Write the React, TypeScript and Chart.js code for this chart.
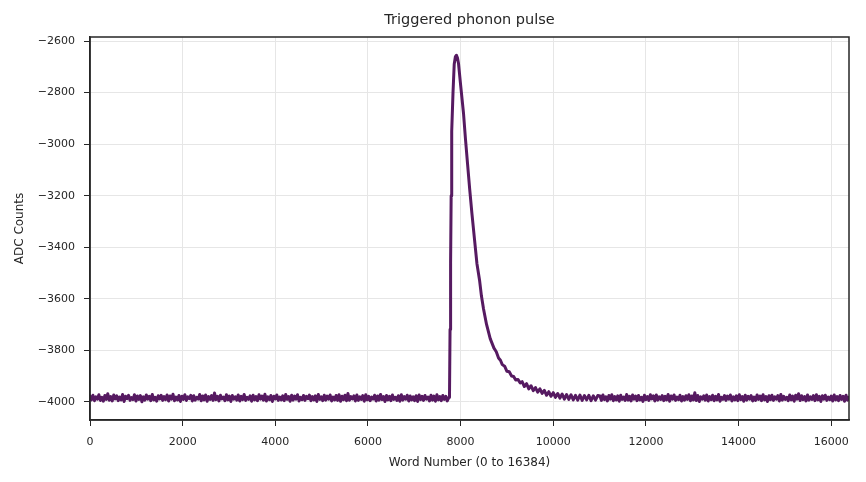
import React, { useEffect, useRef } from "react";
import Chart from "chart.js/auto";

// sampling step of the baseline traces (words)
const baselineStep = 32;

// baseline before the trigger, starting at word 0
const preTriggerCounts = [
    -3978, -3993, -3975, -3996, -3981, -3990, -3973, -3995, -3983, -3998,
    -3976, -3991, -3969, -3994, -3980, -3997, -3974, -3989, -3977, -3996,
    -3982, -3993, -3972, -3999, -3979, -3988, -3975, -3995, -3984, -3992,
    -3973, -3997, -3978, -3991, -3976, -4000, -3981, -3994, -3974, -3990,
    -3979, -3996, -3972, -3993, -3983, -3998, -3977, -3989, -3975, -3995,
    -3980, -3992, -3974, -3997, -3978, -3990, -3971, -3996, -3982, -3993,
    -3976, -3999, -3979, -3991, -3973, -3995, -3981, -3988, -3975, -3997,
    -3977, -3994, -3983, -3990, -3972, -3996, -3978, -3993, -3974, -3998,
    -3980, -3991, -3976, -3995, -3966, -3992, -3979, -3997, -3975, -3989,
    -3982, -3996, -3973, -3993, -3978, -3999, -3976, -3990, -3981, -3994,
    -3974, -3997, -3979, -3992, -3972, -3995, -3983, -3991, -3977, -3998,
    -3975, -3993, -3980, -3996, -3973, -3990, -3978, -3994, -3971, -3997,
    -3981, -3992, -3976, -3999, -3979, -3989, -3974, -3995, -3982, -3993,
    -3977, -3996, -3972, -3991, -3980, -3998, -3975, -3994, -3978, -3990,
    -3973, -3997, -3983, -3992, -3976, -3995, -3979, -3988, -3974, -3996,
    -3980, -3993, -3977, -3999, -3972, -3991, -3981, -3996, -3975, -3994,
    -3978, -3990, -3974, -3997, -3982, -3993, -3976, -3995, -3973, -3998,
    -3979, -3992, -3975, -3996, -3968, -3994, -3980, -3989, -3977, -3997,
    -3974, -3995, -3981, -3991, -3976, -3998, -3973, -3993, -3979, -3996,
    -3982, -3990, -3975, -3997, -3978, -3994, -3972, -3992, -3980, -3999,
    -3976, -3993, -3979, -3996, -3974, -3991, -3983, -3995, -3977, -3998,
    -3973, -3994, -3980, -3990, -3975, -3997, -3978, -3993, -3981, -3996,
    -3977, -3999, -3974, -3992, -3979, -3995, -3976, -3990, -3982, -3997,
    -3975, -3994, -3978, -3998, -3973, -3993, -3980, -3996, -3976, -3991,
    -3979, -3997, -3984,
];

// the pulse itself (rise, peak and decay)
const pulseWords = [
    7760, 7772, 7784, 7796, 7808, 7836, 7862, 7888, 7910, 7932,
    7955, 8000, 8063, 8105, 8149, 8196, 8244, 8300, 8352, 8409,
    8450, 8495, 8560, 8639, 8720, 8770, 8819, 8860, 8900, 8950,
    9000, 9050, 9100, 9145, 9190, 9240, 9287,
    9328, 9376, 9424, 9472, 9520, 9568, 9616, 9664, 9712, 9760,
    9808, 9856, 9904, 9952, 10000, 10048, 10096, 10144, 10192, 10240,
    10288, 10336, 10384, 10432, 10480, 10528, 10576, 10624, 10672, 10720,
    10768, 10816, 10864, 10912, 10960,
];
const pulseCounts = [
    -3984, -3720, -3460, -3200, -2950, -2800, -2690, -2660, -2655, -2665,
    -2687, -2770, -2881, -2980, -3075, -3175, -3269, -3370, -3463, -3528,
    -3590, -3640, -3700, -3755, -3792, -3806, -3830, -3839, -3856, -3862,
    -3882, -3884, -3900, -3902, -3916, -3914, -3927,
    -3922, -3941, -3930, -3950, -3938, -3957, -3945, -3963, -3950, -3968,
    -3956, -3975, -3961, -3979, -3965, -3983, -3968, -3986, -3970, -3990,
    -3972, -3991, -3973, -3993, -3975, -3994, -3974, -3995, -3976, -3993,
    -3975, -3996, -3977, -3994, -3976,
];

// baseline after the pulse, starting at word 11008
const tailStart = 11008;
const tailCounts = [
    -3978, -3995, -3974, -3992, -3981, -3997, -3976, -3990, -3973, -3996,
    -3980, -3993, -3977, -3998, -3975, -3991, -3982, -3995, -3972, -3994,
    -3979, -3997, -3974, -3990, -3978, -3996, -3976, -3993, -3983, -3999,
    -3975, -3992, -3980, -3995, -3973, -3989, -3977, -3997, -3974, -3994,
    -3981, -3991, -3976, -3996, -3979, -3993, -3972, -3998, -3978, -3990,
    -3974, -3995, -3982, -3992, -3975, -3997, -3980, -3994, -3977, -3991,
    -3973, -3996, -3978, -3993, -3965, -3995, -3976, -3999, -3981, -3990,
    -3977, -3994, -3974, -3997, -3980, -3992, -3975, -3996, -3979, -3993,
    -3972, -3998, -3983, -3991, -3976, -3995, -3978, -3990, -3974, -3997,
    -3981, -3993, -3977, -3996, -3973, -3992, -3980, -3998, -3975, -3994,
    -3979, -3990, -3976, -3997, -3982, -3995, -3974, -3991, -3978, -3996,
    -3973, -3993, -3980, -3999, -3977, -3992, -3975, -3995, -3981, -3990,
    -3976, -3997, -3972, -3994, -3979, -3991, -3983, -3996, -3974, -3993,
    -3978, -3998, -3975, -3990, -3969, -3995, -3977, -3992, -3980, -3997,
    -3974, -3994, -3981, -3991, -3976, -3996, -3973, -3993, -3979, -3999,
    -3977, -3990, -3975, -3995, -3982, -3992, -3978, -3997, -3974, -3993,
    -3980, -3996, -3976, -3991, -3979, -3998, -3975, -3994, -3983,
];

const xTicks = [0, 2000, 4000, 6000, 8000, 10000, 12000, 14000, 16000];
const yTicks = [-4000, -3800, -3600, -3400, -3200, -3000, -2800, -2600];

const FONT = "'DejaVu Sans', sans-serif";
const INK = "#262626";
const TITLE = "Triggered phonon pulse";

// matplotlib-style box round the plot, plus the title centred over the plot area
const framePlugin = {
    id: "frame",
    afterDraw(chart: any) {
        const { ctx, chartArea } = chart;
        ctx.save();
        ctx.strokeStyle = INK;
        ctx.lineWidth = 1.5;
        ctx.strokeRect(chartArea.left, chartArea.top, chartArea.right - chartArea.left, chartArea.bottom - chartArea.top);
        ctx.fillStyle = INK;
        ctx.font = `14.5px ${FONT}`;
        ctx.textAlign = "center";
        ctx.textBaseline = "middle";
        ctx.fillText(TITLE, (chartArea.left + chartArea.right) / 2, 20);
        ctx.restore();
    },
};

const fmt = (v: number) => (v < 0 ? "\u2212" + Math.abs(v) : String(v));

const App: React.FC = () => {
    const chartRef = useRef<HTMLCanvasElement | null>(null);

    useEffect(() => {
        document.body.style.margin = "0";
        if (!chartRef.current) return;

        const points = [
            ...preTriggerCounts.map((y, i) => ({ x: i * baselineStep, y })),
            ...pulseWords.map((x, i) => ({ x, y: pulseCounts[i] })),
            ...tailCounts.map((y, i) => ({ x: tailStart + i * baselineStep, y })),
        ];

        const chart = new Chart(chartRef.current, {
            type: "line",
            data: {
                datasets: [
                    {
                        data: points,
                        borderColor: "#561a61",
                        borderWidth: 3,
                        borderJoinStyle: "round",
                        borderCapStyle: "round",
                        pointRadius: 0,
                        tension: 0,
                    },
                ],
            },
            plugins: [framePlugin],
            options: {
                animation: false,
                responsive: true,
                maintainAspectRatio: false,
                layout: { padding: { left: 0, right: 17, top: 37, bottom: 0 } },
                plugins: {
                    legend: { display: false },
                    tooltip: { enabled: false },
                    title: { display: false },
                },
                scales: {
                    x: {
                        type: "linear",
                        min: 0,
                        max: 16384,
                        afterBuildTicks: (s: any) => {
                            s.ticks = xTicks.map((value) => ({ value }));
                        },
                        afterFit: (s: any) => {
                            s.height = 62;
                        },
                        ticks: {
                            color: INK,
                            font: { family: FONT, size: 11 },
                            maxRotation: 0,
                            padding: 10,
                            callback: (v: any) => fmt(Number(v)),
                        },
                        grid: { color: "#e6e6e6", tickColor: INK, tickLength: 6, lineWidth: 1 },
                        border: { color: INK, width: 1.5 },
                        title: {
                            display: true,
                            text: "Word Number (0 to 16384)",
                            color: INK,
                            font: { family: FONT, size: 12 },
                            padding: { top: 4, bottom: 12 },
                        },
                    },
                    y: {
                        type: "linear",
                        min: -4071,
                        max: -2584,
                        afterBuildTicks: (s: any) => {
                            s.ticks = yTicks.map((value) => ({ value }));
                        },
                        afterFit: (s: any) => {
                            s.width = 90;
                        },
                        ticks: {
                            color: INK,
                            font: { family: FONT, size: 11 },
                            padding: 9,
                            callback: (v: any) => fmt(Number(v)),
                        },
                        grid: { color: "#e6e6e6", tickColor: INK, tickLength: 6, lineWidth: 1 },
                        border: { color: INK, width: 1.5 },
                        title: {
                            display: true,
                            text: "ADC Counts",
                            color: INK,
                            font: { family: FONT, size: 12 },
                            padding: { top: 13, bottom: 0 },
                        },
                    },
                },
            },
        });

        return () => {
            chart.destroy();
        };
    }, []);

    return (
        <div style={{ position: "relative", width: 866, height: 482 }}>
            <canvas ref={chartRef} />
        </div>
    );
};

export default App;
